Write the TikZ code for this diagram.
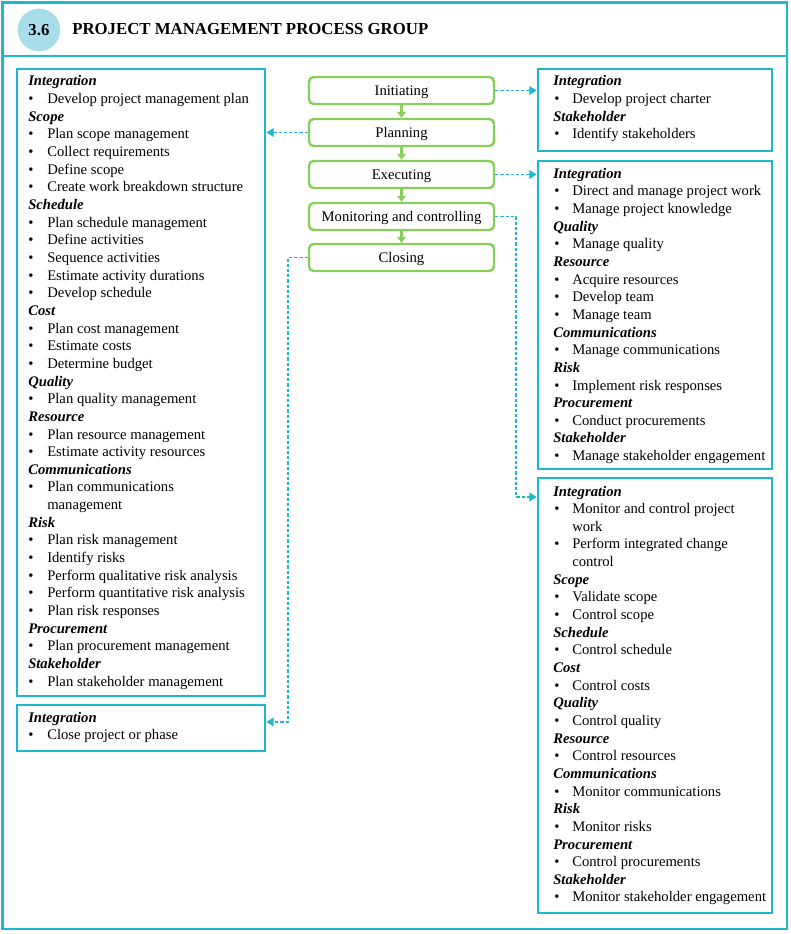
\documentclass[tikz,border=0pt]{standalone}
\usepackage{fontspec}
\setmainfont{Liberation Serif}
\usetikzlibrary{arrows.meta,fit}
\definecolor{cyanline}{HTML}{1DB8CE}
\definecolor{circlefill}{HTML}{A8DDEA}
\definecolor{greenline}{HTML}{86D05A}
\newcommand{\fsz}{\fontsize{11}{13}\selectfont}
\tikzset{
  cbox/.style={draw=cyanline, line width=2pt, inner sep=0pt},
  gbox/.style={draw=greenline, line width=1.8pt, rounded corners=3.5pt, minimum width=138.75pt, minimum height=20.25pt, inner sep=0pt, text height=7.4pt, text depth=0.6pt, font=\fsz},
  hd/.style={anchor=base west, inner sep=0pt, font=\fsz\bfseries\itshape},
  itm/.style={anchor=base west, inner sep=0pt, font=\fsz},
  bul/.style={anchor=base, inner sep=0pt, font=\fsz},
  garrow/.style={draw=greenline, line width=1.8pt, -{Triangle[length=4.5pt,width=6.5pt]}},
  carrow/.style={draw=cyanline, line width=1.2pt, dash pattern=on 2.4pt off 1.5pt, -{Triangle[length=5.5pt,width=6.5pt]}},
}
% name, x heading, x bullet, x text, first baseline, list
\newcommand{\listbox}[6]{%
  \foreach \k/\t [count=\i] in {#6}{%
    \pgfmathsetmacro{\yy}{#5+(\i-1)*17.65}%
    \if h\k \node[hd] (#1-\i) at (#2,\yy) {\t};\fi
    \if b\k \node[bul] (#1-d\i) at (#3,\yy) {\textbullet}; \node[itm] (#1-\i) at (#4,\yy) {\t};\fi
    \if c\k \node[itm] (#1-\i) at (#4,\yy) {\t};\fi
  }%
}
\begin{document}
\begin{tikzpicture}[x=0.75pt,y=-0.75pt]
\useasboundingbox (0,0) rectangle (790,934);
% outer frame and header
\node[cbox, fit={(2.5,2.5) (787,929)}] (outer) {};
\draw[cyanline, line width=2pt] (outer.west |- 0,56) -- (outer.east |- 0,56);
\node[circle, fill=circlefill, minimum size=32pt, inner sep=0pt, font=\fontsize{12.6}{14}\selectfont\bfseries] (num) at (39,30) {3.6};
\node[anchor=base west, inner sep=0pt, font=\fontsize{12.6}{14}\selectfont\bfseries] (title) at (72,35) {PROJECT MANAGEMENT PROCESS GROUP};
% content boxes
\node[cbox, fit={(17,69) (265,696)}] (L) {};
\node[cbox, fit={(17,705) (265,751)}] (LC) {};
\node[cbox, fit={(538,69) (772,151)}] (R1) {};
\node[cbox, fit={(538,161) (772,469)}] (R2) {};
\node[cbox, fit={(538,478) (772,913)}] (R3) {};
% process boxes
\node[gbox] (init) at (401.5,90.5) {Initiating};
\node[gbox] (plan) at (401.5,132.5) {Planning};
\node[gbox] (exec) at (401.5,174.5) {Executing};
\node[gbox] (mon) at (401.5,216.5) {Monitoring and controlling};
\node[gbox] (close) at (401.5,257.5) {Closing};
\draw[garrow] (init) -- (plan);
\draw[garrow] (plan) -- (exec);
\draw[garrow] (exec) -- (mon);
\draw[garrow] (mon) -- (close);
% dashed connectors
\draw[carrow] (init.east) -- (init.east -| R1.west);
\draw[carrow] (plan.west) -- (plan.west -| L.east);
\draw[carrow] (exec.east) -- (exec.east -| R2.west);
\coordinate (m1) at (516,497);
\draw[carrow] (mon.east) -| (m1) -- (m1 -| R3.west);
\coordinate (c1) at (288,722);
\draw[carrow] (close.west) -| (c1) -- (c1 -| LC.east);
% texts
\listbox{Lt}{28}{31}{47}{86}{h/Integration, b/Develop project management plan, h/Scope, b/Plan scope management, b/Collect requirements, b/Define scope, b/Create work breakdown structure, h/Schedule, b/Plan schedule management, b/Define activities, b/Sequence activities, b/Estimate activity durations, b/Develop schedule, h/Cost, b/Plan cost management, b/Estimate costs, b/Determine budget, h/Quality, b/Plan quality management, h/Resource, b/Plan resource management, b/Estimate activity resources, h/Communications, b/Plan communications, c/management, h/Risk, b/Plan risk management, b/Identify risks, b/Perform qualitative risk analysis, b/Perform quantitative risk analysis, b/Plan risk responses, h/Procurement, b/Plan procurement management, h/Stakeholder, b/Plan stakeholder management}
\listbox{LCt}{28}{31}{47}{722}{h/Integration, b/Close project or phase}
\listbox{R1t}{553}{557}{572}{86}{h/Integration, b/Develop project charter, h/Stakeholder, b/Identify stakeholders}
\listbox{R2t}{553}{557}{572}{178.2}{h/Integration, b/Direct and manage project work, b/Manage project knowledge, h/Quality, b/Manage quality, h/Resource, b/Acquire resources, b/Develop team, b/Manage team, h/Communications, b/Manage communications, h/Risk, b/Implement risk responses, h/Procurement, b/Conduct procurements, h/Stakeholder, b/Manage stakeholder engagement}
\listbox{R3t}{553}{557}{572}{496}{h/Integration, b/Monitor and control project, c/work, b/Perform integrated change, c/control, h/Scope, b/Validate scope, b/Control scope, h/Schedule, b/Control schedule, h/Cost, b/Control costs, h/Quality, b/Control quality, h/Resource, b/Control resources, h/Communications, b/Monitor communications, h/Risk, b/Monitor risks, h/Procurement, b/Control procurements, h/Stakeholder, b/Monitor stakeholder engagement}
\end{tikzpicture}
\end{document}
